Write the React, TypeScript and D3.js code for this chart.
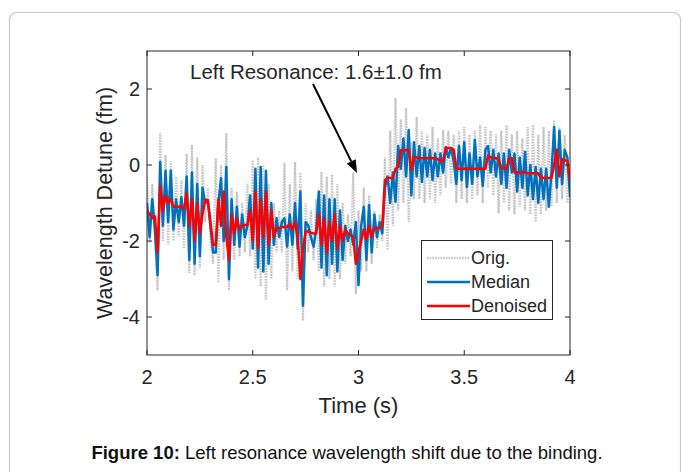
import React from "react";
import * as d3 from "d3";

// Sampling: 161 samples between 2 s and 4 s
const T0 = 2;
const DT = 0.0125;

const origValues = [
  -0.3, -2.05, -0.5, -1.9, -3.3, 0.84, -2.0, 0.26, -2.1, 0.1,
  -2.0, -0.3, -1.9, -0.4, -2.2, 0.3, -2.84, 0.53, -2.9, 0.2,
  -2.7, 0.0, -1.5, -0.6, -2.0, -2.6, 0.18, -3.1, 0.0, -2.5,
  0.84, -3.3, -0.6, -2.5, -0.7, -2.4, -1.0, -2.3, -0.5, -2.4,
  0.13, -3.0, 0.2, -3.2, 0.0, -3.55, -0.5, -3.0, -1.0, -2.3,
  -1.2, -2.3, 0.05, -3.3, -0.5, -2.8, 0.08, -3.0, -0.2, -4.1,
  -1.0, -2.3, -1.2, -2.5, -0.9, -2.8, -0.18, -3.2, -0.3, -3.0,
  -0.25, -3.2, -0.5, -3.0, -1.0, -2.6, -1.3, -2.4, -0.2, -3.4,
  -1.2, -2.8, -0.6, -2.8, -0.8, -2.6, -1.2, -2.2, -1.3, -2.0,
  0.2, -2.24, 0.9, -1.6, 1.76, -1.2, 1.2, -1.0, 1.5, -1.5,
  0.6, -0.9, 1.26, -0.9, 0.9, -1.0, 0.8, -0.9, 1.0, -1.0,
  0.7, -0.8, 0.92, -0.6, 0.9, -0.5, 0.8, -1.0, 0.9, -0.9,
  1.0, -1.0, 0.8, -0.9, 0.9, -0.8, 1.05, -1.0, 1.0, -0.6,
  0.9, -0.8, 0.8, -1.27, 0.9, -1.0, 1.05, -1.2, 0.8, -1.3,
  0.9, -1.1, 0.7, -1.2, 1.0, -1.3, 1.05, -1.5, 0.8, -1.3,
  1.0, -1.2, 0.9, -1.1, 1.18, -1.0, 1.0, -0.9, 0.8, -1.0,
  -0.8,
];

const medianValues = [
  -1.0, -1.9, -0.9, -1.7, -2.9, 0.08, -1.6, -0.15, -1.5, -0.15,
  -1.7, -0.9, -1.5, -0.85, -1.6, -0.3, -2.5, -0.2, -2.6, -0.5,
  -2.4, -0.6, -1.0, -0.95, -1.6, -2.3, -2.3, -1.0, -0.35, -2.0,
  -0.05, -3.0, -0.9, -2.1, -1.1, -2.15, -1.3, -1.9, -1.6, -0.8,
  -2.2, -0.1, -2.7, -0.05, -2.8, -0.15, -2.6, -1.0, -2.1, -1.4,
  -1.9, -1.5, -1.4, -2.15, -1.3, -2.1, -1.0, -2.2, -0.7, -3.7,
  -1.5, -1.6, -1.9, -2.15, -1.7, -0.7, -2.7, -0.8, -2.9, -0.9,
  -2.6, -0.9, -2.8, -1.2, -2.5, -1.6, -2.0, -1.7, -2.1, -1.5,
  -3.16, -1.6, -1.1, -2.5, -1.05, -2.3, -1.3, -1.9, -1.5, -1.8,
  -0.6, -0.3, -1.0, -0.2, -0.97, 0.5, -0.1, 0.7, -0.3, 0.92,
  -0.8, 0.6, -0.3, 0.5, -0.45, 0.45, -0.3, 0.4, -0.4, 0.3,
  -0.3, 0.3, -0.2, 0.47, 0.2, 0.45, 0.1, -0.5, 0.5, -0.4,
  0.6, -0.58, 0.3, -0.5, 0.66, -0.3, 0.2, -0.55, 0.4, 0.5,
  -0.2, 0.4, -0.3, 0.3, -0.5, 0.3, -0.6, 0.4, -0.2, 0.3,
  -0.7, 0.2, -0.6, 0.35, -0.8, 0.0, -0.9, -0.05, -1.0, -0.1,
  -0.9, -0.1, -1.1, -0.2, 1.0, -0.6, 0.9, -0.5, 0.4, 0.2,
  -0.84,
];

const denoisedValues = [
  -1.2, -1.3, -1.4, -1.35, -2.3, -0.55, -1.2, -0.8, -1.0, -0.9,
  -1.1, -1.1, -1.1, -1.1, -1.15, -0.75, -1.6, -0.9, -2.0, -1.0,
  -1.8, -1.3, -0.92, -0.92, -1.5, -2.1, -2.1, -0.9, -1.6, -0.7,
  -1.9, -2.5, -1.3, -1.8, -1.4, -1.7, -1.6, -1.58, -1.58, -1.2,
  -2.0, -0.7, -2.2, -0.9, -1.9, -0.7, -2.1, -1.2, -1.9, -1.66,
  -1.66, -1.63, -1.63, -1.63, -1.55, -1.7, -1.5, -1.9, -3.0, -2.2,
  -1.75, -1.75, -1.78, -1.8, -1.8, -1.3, -2.1, -1.4, -2.3, -1.5,
  -2.0, -1.3, -2.2, -1.6, -2.0, -1.7, -1.8, -1.84, -1.9, -2.6,
  -2.3, -2.0, -1.7, -1.95, -1.6, -1.9, -1.66, -1.66, -1.66, -1.6,
  -0.4, -0.34, -0.34, -0.34, -0.1, -0.05, 0.39, 0.39, 0.39, 0.4,
  -0.13, 0.21, 0.2, 0.18, 0.18, 0.18, 0.18, 0.18, 0.18, 0.18,
  0.15, 0.1, 0.12, 0.45, 0.45, 0.45, 0.4, -0.08, -0.1, -0.1,
  -0.1, -0.1, -0.1, -0.1, -0.1, -0.1, -0.1, -0.1, -0.1, 0.25,
  0.2, 0.18, 0.18, 0.15, -0.08, -0.08, -0.1, 0.18, 0.18, -0.2,
  -0.2, -0.2, -0.2, -0.2, -0.22, -0.22, -0.22, -0.22, -0.22, -0.34,
  -0.34, -0.34, -0.34, -0.34, 0.0, 0.4, -0.3, 0.15, 0.13, 0.1,
  -0.4,
];

const xTicks = [2, 2.5, 3, 3.5, 4];
const yTicks = [2, 0, -2, -4];
const legendLabels = ["Orig.", "Median", "Denoised"];

const FONT = "'Liberation Sans', Arial, sans-serif";
const AX = "#262626";

export default function App() {
  const W = 683, H = 472;
  const x = d3.scaleLinear().domain([2, 4]).range([147, 570]);
  const y = d3.scaleLinear().domain([-5, 3]).range([355, 51]);

  const mk = (vals: number[]) =>
    vals.map((v, i) => [T0 + i * DT, v] as [number, number]);
  const line = d3
    .line<[number, number]>()
    .x((d) => x(d[0]))
    .y((d) => y(d[1]));

  const [x0, x1] = x.range();
  const [yb, yt] = y.range();
  const tl = 5;

  // arrow
  const ax0 = 313, ay0 = 84, ax1 = 357, ay1 = 173;
  const len = Math.hypot(ax1 - ax0, ay1 - ay0);
  const ux = (ax1 - ax0) / len, uy = (ay1 - ay0) / len;
  const hl = 13, hw = 5;
  const bx = ax1 - ux * hl, by = ay1 - uy * hl;
  const head = `${ax1},${ay1} ${bx - uy * hw},${by + ux * hw} ${bx + uy * hw},${by - ux * hw}`;

  const legendStyles = [
    { stroke: "#c4c4c4", dash: "1.5,1.2", w: 2.5 },
    { stroke: "#0072BD", dash: undefined, w: 2.5 },
    { stroke: "#FF0000", dash: undefined, w: 2.5 },
  ];

  return (
    <svg
      width={W}
      height={H}
      style={{ position: "absolute", left: 0, top: 0, background: "#fff" }}
      fontFamily={FONT}
    >
      <rect x={9.5} y={12.5} width={671} height={480} rx={7} fill="#fff" stroke="#c8c8c8" strokeWidth={1.2} />
      <defs>
        <clipPath id="plotclip">
          <rect x={x0} y={yt} width={x1 - x0} height={yb - yt} />
        </clipPath>
      </defs>
      <g clipPath="url(#plotclip)">
        <path d={line(mk(origValues)) || ""} fill="none" stroke="#c4c4c4" strokeWidth={2.2} strokeDasharray="1.5,1.2" />
        <path d={line(mk(medianValues)) || ""} fill="none" stroke="#0072BD" strokeWidth={2.5} strokeLinejoin="round" />
        <path d={line(mk(denoisedValues)) || ""} fill="none" stroke="#FF0000" strokeWidth={2.5} strokeLinejoin="round" />
      </g>
      {/* axes box */}
      <rect x={x0} y={yt} width={x1 - x0} height={yb - yt} fill="none" stroke={AX} strokeWidth={1} />
      {xTicks.map((t) => (
        <g key={"x" + t}>
          <line x1={x(t)} x2={x(t)} y1={yb} y2={yb - tl} stroke={AX} />
          <line x1={x(t)} x2={x(t)} y1={yt} y2={yt + tl} stroke={AX} />
          <text x={x(t)} y={yb + 29} textAnchor="middle" fontSize={20} fill={AX}>
            {String(t)}
          </text>
        </g>
      ))}
      {yTicks.map((t) => (
        <g key={"y" + t}>
          <line x1={x0} x2={x0 + tl} y1={y(t)} y2={y(t)} stroke={AX} />
          <line x1={x1} x2={x1 - tl} y1={y(t)} y2={y(t)} stroke={AX} />
          <text x={x0 - 7} y={y(t) + 7} textAnchor="end" fontSize={20} fill={AX}>
            {String(t)}
          </text>
        </g>
      ))}
      <text x={(x0 + x1) / 2} y={413} textAnchor="middle" fontSize={22} fill={AX}>
        Time (s)
      </text>
      <text
        transform={`translate(112,${(yt + yb) / 2}) rotate(-90)`}
        textAnchor="middle"
        fontSize={21.5}
        fill={AX}
      >
        Wavelength Detune (fm)
      </text>
      {/* annotation */}
      <text x={190} y={79} fontSize={20.5} fill={AX}>
        Left Resonance: 1.6±1.0 fm
      </text>
      <line x1={ax0} y1={ay0} x2={bx} y2={by} stroke="#000" strokeWidth={2} />
      <polygon points={head} fill="#000" />
      {/* legend */}
      <rect x={421.5} y={240.5} width={131} height={79} fill="#fff" stroke={AX} strokeWidth={1} />
      {legendLabels.map((lab, i) => {
        const ly = 258 + i * 24;
        const s = legendStyles[i];
        return (
          <g key={lab}>
            <line x1={427} x2={470} y1={ly} y2={ly} stroke={s.stroke} strokeWidth={s.w} strokeDasharray={s.dash} />
            <text x={471} y={ly + 6} fontSize={18} fill={AX}>
              {lab}
            </text>
          </g>
        );
      })}
      {/* caption */}
      <text x={347} y={459} textAnchor="middle" fontSize={18.5} fill="#111">
        <tspan fontWeight="bold">Figure 10:</tspan>
        <tspan> Left resonance wavelength shift due to the binding.</tspan>
      </text>
    </svg>
  );
}
